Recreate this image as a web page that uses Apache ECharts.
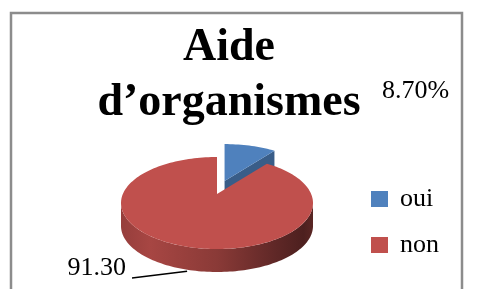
<!DOCTYPE html>
<html>
<head>
<meta charset="utf-8">
<script src="https://cdn.jsdelivr.net/npm/echarts@6/dist/echarts.min.js"></script>
<style>
  html, body { margin: 0; padding: 0; background: #fff; }
  #chart { width: 493px; height: 289px; }
</style>
</head>
<body>
<div id="chart"></div>
<script>
  // données
  var categories = ['oui', 'non'];
  var values = [8.7, 91.3];
  var valueLabels = ['8.70%', '91.30'];
  var explodeDist = [28, 0];

  var palette = ['#4F81BD', '#C0504D'];
  var serif = '"Liberation Serif", "Times New Roman", serif';

  // camembert 3D : ellipse + épaisseur
  var pie = { cx: 217, cy: 203, rx: 96, ry: 46, depth: 23, apexLift: 9 };
  var labelPos = [
    { x: 382, y: 91.5, align: 'left' },
    { x: 126, y: 268, align: 'right', lineFrom: [132, 278] }
  ];

  var total = values.reduce(function (a, b) { return a + b; }, 0);

  function shade(hex, f) {
    var n = parseInt(hex.slice(1), 16);
    var r = Math.round(((n >> 16) & 255) * f);
    var g = Math.round(((n >> 8) & 255) * f);
    var b = Math.round((n & 255) * f);
    return 'rgb(' + r + ',' + g + ',' + b + ')';
  }

  function pt(a, ox, oy, drop) {
    return [pie.cx + ox + pie.rx * Math.sin(a), pie.cy + oy - pie.ry * Math.cos(a) + drop];
  }

  function arc(a0, a1, ox, oy, drop) {
    var pts = [];
    var steps = Math.max(2, Math.ceil(Math.abs(a1 - a0) / 0.03));
    for (var i = 0; i <= steps; i++) {
      pts.push(pt(a0 + (a1 - a0) * i / steps, ox, oy, drop));
    }
    return pts;
  }

  function makeRender(idx) {
    return function (params, api) {
      var v = api.value(0);
      var before = values.slice(0, idx).reduce(function (a, b) { return a + b; }, 0);
      var start = before / total * Math.PI * 2;
      var end = start + v / total * Math.PI * 2;
      var mid = (start + end) / 2;
      var e = explodeDist[idx];
      var ox = e * Math.sin(mid);
      var oy = -e * Math.cos(mid) * pie.ry / pie.rx;
      var color = api.visual('color');
      var apex = [pie.cx + ox, pie.cy + oy - pie.apexLift];
      var apexB = [apex[0], apex[1] + pie.depth];
      var children = [];

      // face extérieure visible (avant)
      var s = Math.max(start, Math.PI / 2), t = Math.min(end, Math.PI * 1.5);
      if (t > s) {
        var pts = arc(s, t, ox, oy, 0).concat(arc(t, s, ox, oy, pie.depth));
        children.push({
          type: 'polygon',
          shape: { points: pts },
          style: {
            fill: new echarts.graphic.LinearGradient(0, 0, 1, 0, [
              { offset: 0, color: shade(color, 0.78) },
              { offset: 0.15, color: shade(color, 0.87) },
              { offset: 0.5, color: shade(color, 0.72) },
              { offset: 0.8, color: shade(color, 0.5) },
              { offset: 0.95, color: shade(color, 0.4) },
              { offset: 1, color: shade(color, 0.47) }
            ])
          }
        });
      }
      // faces de coupe
      [[end, Math.sin(end) > 0.01], [start, Math.sin(start) < -0.01]].forEach(function (f) {
        if (!f[1]) return;
        var p = pt(f[0], ox, oy, 0), pb = pt(f[0], ox, oy, pie.depth);
        children.push({
          type: 'polygon',
          shape: { points: [apex, p, pb, apexB] },
          style: { fill: shade(color, 0.72) }
        });
      });
      // dessus
      children.push({
        type: 'polygon',
        shape: { points: [apex].concat(arc(start, end, ox, oy, 0)) },
        style: { fill: color }
      });
      // étiquette
      var lp = labelPos[idx];
      children.push({
        type: 'text',
        style: {
          text: valueLabels[idx], x: lp.x, y: lp.y,
          align: lp.align, verticalAlign: 'middle',
          font: '26px ' + serif, fill: '#000'
        }
      });
      if (lp.lineFrom) {
        var q = pt(mid, ox, oy, pie.depth);
        children.push({
          type: 'line',
          shape: { x1: lp.lineFrom[0], y1: lp.lineFrom[1], x2: q[0] - 4, y2: q[1] + 1 },
          style: { stroke: '#000', lineWidth: 1.5 }
        });
      }
      return { type: 'group', children: children };
    };
  }

  var chart = echarts.init(document.getElementById('chart'), null, { renderer: 'canvas' });
  chart.setOption({
    animation: false,
    backgroundColor: '#fff',
    color: palette,
    title: {
      text: 'Aide\nd’organismes',
      left: 229,
      top: 21,
      textAlign: 'center',
      padding: 0,
      textStyle: { fontFamily: serif, fontSize: 46, fontWeight: 'bold', lineHeight: 55, color: '#000' }
    },
    legend: {
      orient: 'vertical',
      left: 371,
      top: 186,
      padding: 0,
      itemWidth: 17,
      itemHeight: 16,
      itemGap: 20,
      icon: 'rect',
      selectedMode: false,
      data: categories,
      textStyle: { fontFamily: serif, fontSize: 26, lineHeight: 26, color: '#000', padding: [0, 0, 0, 7] }
    },
    graphic: [{
      type: 'rect',
      shape: { x: 11, y: 13, width: 451, height: 320 },
      style: { fill: 'none', stroke: '#8c8c8c', lineWidth: 2.5 },
      silent: true
    }],
    series: categories.map(function (name, i) {
      return {
        type: 'custom',
        name: name,
        coordinateSystem: 'none',
        silent: true,
        renderItem: makeRender(i),
        data: [values[i]]
      };
    })
  });
</script>
</body>
</html>
